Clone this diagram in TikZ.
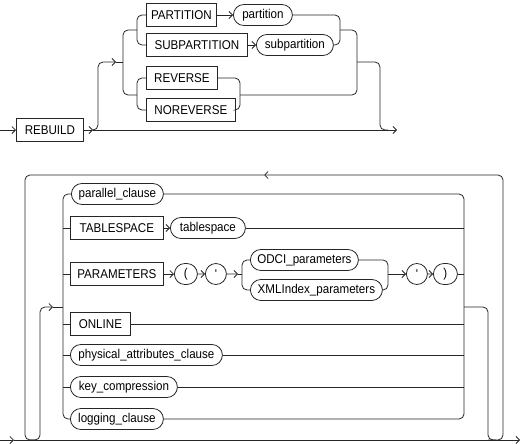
\documentclass[tikz,border=0pt]{standalone}
\usepackage{fontspec}
\usepackage{graphicx}
\setmainfont{Liberation Sans}
\usetikzlibrary{arrows.meta,shapes.misc}
\newcommand{\lbtxt}[1]{\scalebox{1}[1.1]{#1}}
\begin{document}
\begin{tikzpicture}[x=1pt,y=-1pt,line width=0.8pt,
  lbl/.style={font=\fontsize{11.6}{12}\selectfont, text=black, inner sep=0pt, anchor=west},
  kw/.style={lbl, draw=black!85, rectangle, minimum height=23pt},
  nt/.style={lbl, draw=black!85, rounded rectangle, minimum height=21pt},
  ln/.style={draw=black!85, rounded corners=5pt},
  arr/.style={ln, -{Straight Barb[length=3.5pt,width=7pt]}}]
\useasboundingbox (0,0) rectangle (522,444);
% ---------- top diagram ----------
\coordinate (s1) at (0,130);
\coordinate (e1) at (397,130);
\coordinate (j1) at (93,130);
\coordinate (b1) at (116,62);
\node[kw,minimum width=67pt] (rebuild) at (16,130) {\lbtxt{REBUILD}};
\node[kw,minimum width=70pt] (partK) at (146,15) {\lbtxt{PARTITION}};
\node[nt,minimum width=59pt] (partN) at (233,15) {\lbtxt{partition}};
\node[kw,minimum width=101pt] (subK) at (146,45) {\lbtxt{SUBPARTITION}};
\node[nt,minimum width=77pt] (subN) at (256,45) {\lbtxt{subpartition}};
\node[kw,minimum width=71pt] (rev) at (146,78) {\lbtxt{REVERSE}};
\node[kw,minimum width=89pt] (norev) at (146,110) {\lbtxt{NOREVERSE}};
\draw[arr] (s1) -- (rebuild);
\draw[arr] (rebuild) -- (j1);
\draw[arr] (j1) -- (e1);
\draw[arr] (j1) -| (98,62) -- (b1);
\draw[ln] (b1) -- (123,62);
\draw[ln] (137,30) -- (123,30) -- (123,95) -- (137,95);
\draw[ln] (partK.west) -- (137,15) -- (137,45) -- (subK.west);
\draw[ln] (rev.west) -- (137,78) -- (137,110) -- (norev.west);
\draw[arr] (partK) -- (partN);
\draw[arr] (subK) -- (subN);
\draw[ln] (partN.east) -- (340,15) -- (340,45) -- (subN.east);
\draw[ln] (rev.east) -- (240,78) -- (240,110) -- (norev.east);
\draw[ln] (340,30) -- (357,30) -- (357,95) -- (240,95);
\draw[ln] (357,62) -- (380,62) -- (380,130) -- (388,130);
% ---------- bottom diagram ----------
\coordinate (s2) at (0,440);
\coordinate (m2) at (14,440);
\coordinate (e2) at (520,440);
\coordinate (b2) at (53,307);
\coordinate (b3) at (238,274);
\coordinate (ret) at (264,175);
\node[nt,minimum width=92pt] (par) at (71,194) {\lbtxt{parallel\_clause}};
\node[kw,minimum width=93pt] (tsK) at (70,228) {\lbtxt{TABLESPACE}};
\node[nt,minimum width=75pt] (tsN) at (170,228) {\lbtxt{tablespace}};
\node[kw,minimum width=93pt] (prm) at (70,274) {\lbtxt{PARAMETERS}};
\node[nt,minimum width=23pt] (lp) at (174,274) {\lbtxt{(}};
\node[nt,minimum width=21pt] (q1) at (205,274) {\lbtxt{\textquotesingle}};
\node[nt,minimum width=108pt] (odci) at (250,260) {\lbtxt{ODCI\_parameters}};
\node[nt,minimum width=132pt] (xml) at (250,290) {\lbtxt{XMLIndex\_parameters}};
\node[nt,minimum width=17pt] (q2) at (406,274) {\lbtxt{\textquotesingle}};
\node[nt,minimum width=24pt] (rp) at (433,274) {\lbtxt{)}};
\node[kw,minimum width=60pt] (onl) at (70,324) {\lbtxt{ONLINE}};
\node[nt,minimum width=152pt] (phys) at (70,355) {\lbtxt{physical\_attributes\_clause}};
\node[nt,minimum width=107pt] (key) at (70,387) {\lbtxt{key\_compression}};
\node[nt,minimum width=93pt] (log) at (70,419) {\lbtxt{logging\_clause}};
\draw[arr] (s2) -- (m2);
\draw[arr] (m2) -- (e2);
\draw[ln] (ret) -- (25,175) -- (25,440) -- (35,440);
\draw[arr] (30,440) -- (40,440) -- (40,307) -- (b2);
\draw[ln] (b2) -- (63,307);
\draw[ln] (par.west) -- (63,194) -- (63,419) -- (log.west);
\draw[ln] (63,228) -- (tsK.west);
\draw[ln] (63,274) -- (prm.west);
\draw[ln] (63,324) -- (onl.west);
\draw[ln] (63,355) -- (phys.west);
\draw[ln] (63,387) -- (key.west);
\draw[ln] (par.east) -- (464,194) -- (464,419) -- (log.east);
\draw[ln] (tsN.east) -- (464,228);
\draw[ln] (rp.east) -- (464,274);
\draw[ln] (onl.east) -- (464,324);
\draw[ln] (phys.east) -- (464,355);
\draw[ln] (key.east) -- (464,387);
\draw[arr] (tsK) -- (tsN);
\draw[arr] (prm) -- (lp);
\draw[arr] (lp) -- (q1);
\draw[arr] (q1) -- (b3);
\draw[ln] (b3) -- (242,274);
\draw[ln] (odci.west) -- (242,260) -- (242,290) -- (xml.west);
\draw[ln] (odci.east) -- (388,260) -- (388,290) -- (xml.east);
\draw[arr] (388,274) -- (q2);
\draw[arr] (q2) -- (rp);
\draw[ln] (464,307) -- (488,307) -- (488,440) -- (496,440);
\draw[arr] (488,440) -- (503,440) -- (503,175) -- (ret);
\end{tikzpicture}
\end{document}
